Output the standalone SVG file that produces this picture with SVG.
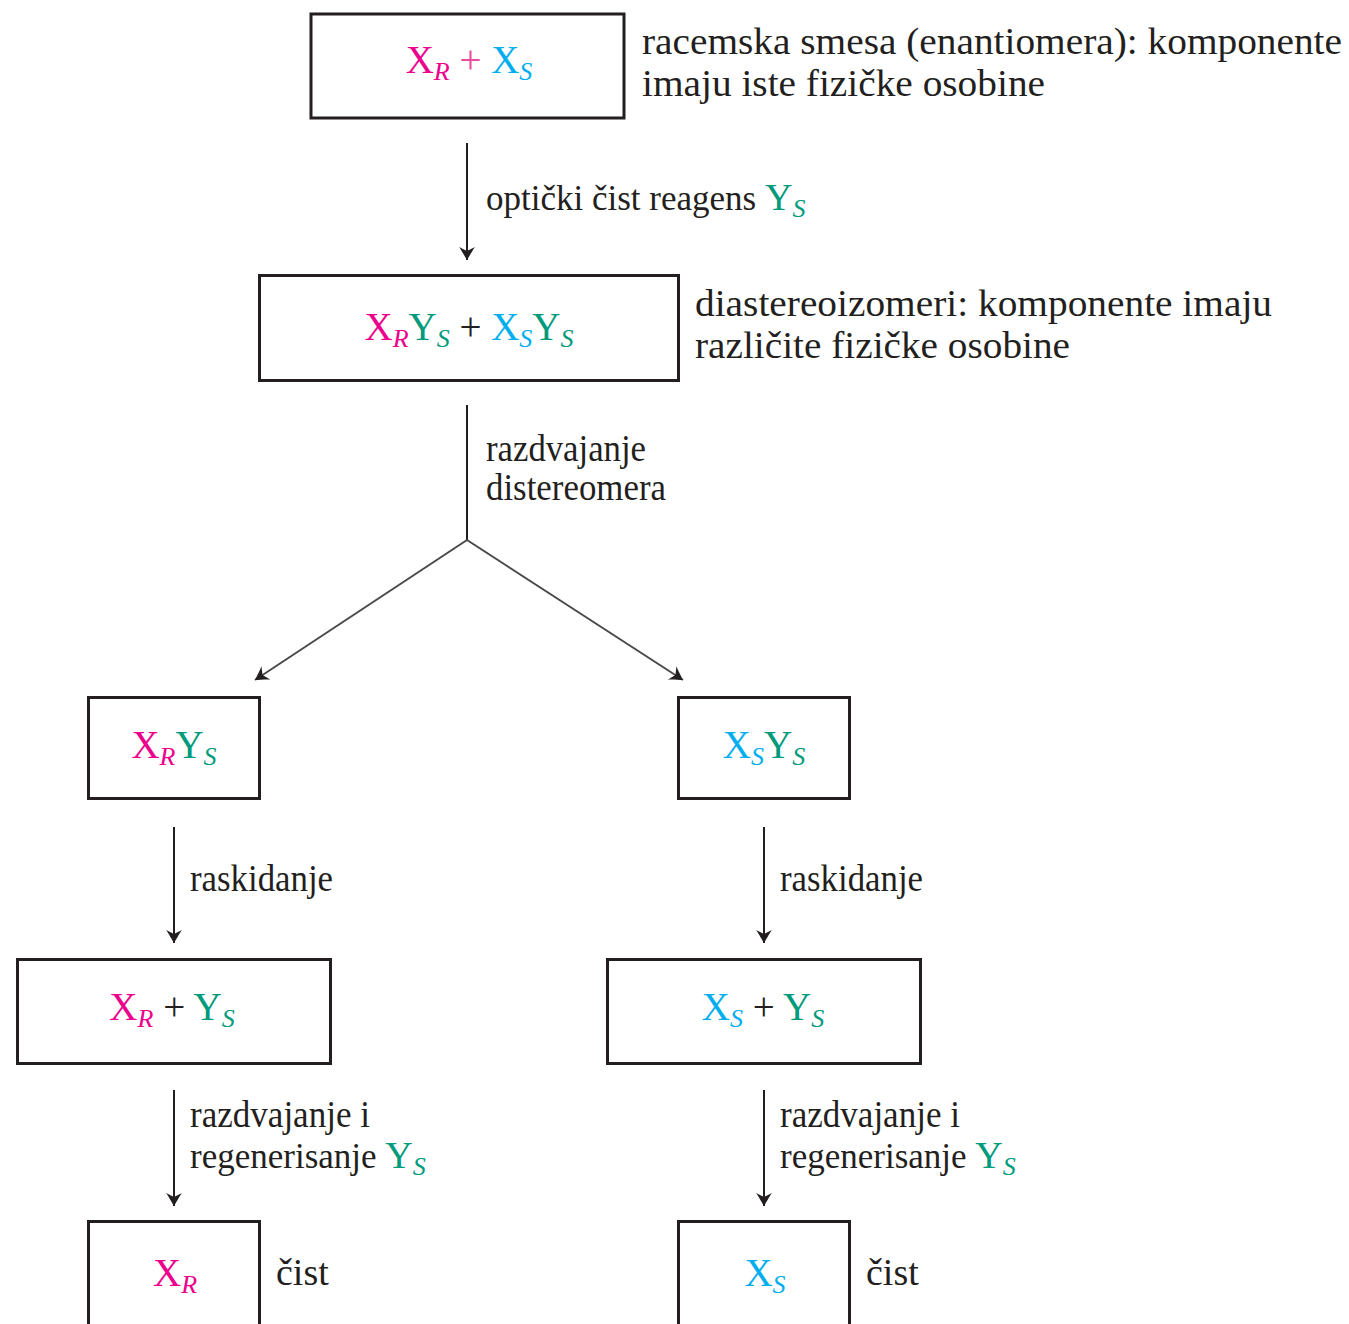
<svg xmlns="http://www.w3.org/2000/svg" width="1349" height="1324" viewBox="0 0 1349 1324">
<style>
.box{fill:#fff;stroke:#231f20;stroke-width:3}
.t{font-family:"Liberation Serif","Times New Roman",serif;font-size:38px;fill:#231f20}
.s35{font-size:35px}
.big{font-size:38px}
.m{font-family:"Liberation Serif","Times New Roman",serif;font-size:39px;text-anchor:middle;fill:#231f20}
.sub{font-size:26px;font-style:italic}
.mg{fill:#ec008c}
.cy{fill:#00aeef}
.gr{fill:#009a7c}
.pl{fill:#ec4a9a}
.ln{stroke:#231f20;stroke-width:2;fill:none}
.dg{stroke:#4a4a4a;stroke-width:2;fill:none}
</style>
<defs>
<marker id="ah" viewBox="-14 -9 15 18" refX="0" refY="0" markerWidth="15" markerHeight="18" markerUnits="userSpaceOnUse" orient="auto">
<path d="M0,0 C-3,-2 -9,-5 -13,-8 L-9,0 L-13,8 C-9,5 -3,2 0,0 Z" fill="#231f20"/>
</marker>
</defs>
<rect width="1349" height="1324" fill="#fff"/>
<g id="connectors">
<line class="ln" x1="467" y1="143" x2="467" y2="260" marker-end="url(#ah)"/>
<polyline class="ln" points="467,405 467,540"/>
<line class="dg" x1="467" y1="540" x2="255" y2="680" marker-end="url(#ah)"/>
<line class="dg" x1="467" y1="540" x2="683" y2="680" marker-end="url(#ah)"/>
<line class="ln" x1="174" y1="827" x2="174" y2="943" marker-end="url(#ah)"/>
<line class="ln" x1="764" y1="827" x2="764" y2="943" marker-end="url(#ah)"/>
<line class="ln" x1="174" y1="1090" x2="174" y2="1206" marker-end="url(#ah)"/>
<line class="ln" x1="764" y1="1090" x2="764" y2="1206" marker-end="url(#ah)"/>
<text class="t s35" x="486" y="210">optički čist reagens <tspan class="gr big">Y</tspan><tspan class="gr sub" dy="7">S</tspan></text>
<text class="t" x="486" y="461" textLength="160" lengthAdjust="spacingAndGlyphs">razdvajanje</text>
<text class="t" x="486" y="500" textLength="180" lengthAdjust="spacingAndGlyphs">distereomera</text>
<text class="t" x="190" y="891" textLength="143" lengthAdjust="spacingAndGlyphs">raskidanje</text>
<text class="t" x="780" y="891" textLength="143" lengthAdjust="spacingAndGlyphs">raskidanje</text>
<text class="t" x="190" y="1127" textLength="180" lengthAdjust="spacingAndGlyphs">razdvajanje i</text>
<text class="t s35" x="190" y="1168">regenerisanje <tspan class="gr big">Y</tspan><tspan class="gr sub" dy="7">S</tspan></text>
<text class="t" x="780" y="1127" textLength="180" lengthAdjust="spacingAndGlyphs">razdvajanje i</text>
<text class="t s35" x="780" y="1168">regenerisanje <tspan class="gr big">Y</tspan><tspan class="gr sub" dy="7">S</tspan></text>
</g>
<g id="n1">
<rect class="box" x="311" y="14" width="313" height="104"/>
<text class="m" x="469" y="73"><tspan class="mg">X</tspan><tspan class="mg sub" dy="7">R</tspan><tspan class="pl" dy="-7"> + </tspan><tspan class="cy">X</tspan><tspan class="cy sub" dy="7">S</tspan></text>
<text class="t" x="642" y="54" textLength="700" lengthAdjust="spacingAndGlyphs">racemska smesa (enantiomera): komponente</text>
<text class="t" x="642" y="96" textLength="403" lengthAdjust="spacingAndGlyphs">imaju iste fizičke osobine</text>
</g>
<g id="n2">
<rect class="box" x="259.5" y="275.5" width="419" height="105"/>
<text class="m" x="469" y="340"><tspan class="mg">X</tspan><tspan class="mg sub" dy="7">R</tspan><tspan class="gr" dy="-7">Y</tspan><tspan class="gr sub" dy="7">S</tspan><tspan dy="-7"> + </tspan><tspan class="cy">X</tspan><tspan class="cy sub" dy="7">S</tspan><tspan class="gr" dy="-7">Y</tspan><tspan class="gr sub" dy="7">S</tspan></text>
<text class="t" x="695" y="316" textLength="577" lengthAdjust="spacingAndGlyphs">diastereoizomeri: komponente imaju</text>
<text class="t" x="695" y="358" textLength="375" lengthAdjust="spacingAndGlyphs">različite fizičke osobine</text>
</g>
<g id="n3">
<rect class="box" x="88.5" y="697.5" width="171" height="101"/>
<text class="m" x="174" y="758"><tspan class="mg">X</tspan><tspan class="mg sub" dy="7">R</tspan><tspan class="gr" dy="-7">Y</tspan><tspan class="gr sub" dy="7">S</tspan></text>
</g>
<g id="n4">
<rect class="box" x="678.5" y="697.5" width="171" height="101"/>
<text class="m" x="764" y="758"><tspan class="cy">X</tspan><tspan class="cy sub" dy="7">S</tspan><tspan class="gr" dy="-7">Y</tspan><tspan class="gr sub" dy="7">S</tspan></text>
</g>
<g id="n5">
<rect class="box" x="17.5" y="959.5" width="313" height="104"/>
<text class="m" x="172" y="1020"><tspan class="mg">X</tspan><tspan class="mg sub" dy="7">R</tspan><tspan dy="-7"> + </tspan><tspan class="gr">Y</tspan><tspan class="gr sub" dy="7">S</tspan></text>
</g>
<g id="n6">
<rect class="box" x="607.5" y="959.5" width="313" height="104"/>
<text class="m" x="763" y="1020"><tspan class="cy">X</tspan><tspan class="cy sub" dy="7">S</tspan><tspan dy="-7"> + </tspan><tspan class="gr">Y</tspan><tspan class="gr sub" dy="7">S</tspan></text>
</g>
<g id="n7">
<rect class="box" x="88.5" y="1221.5" width="171" height="140"/>
<text class="m" x="175" y="1286"><tspan class="mg">X</tspan><tspan class="mg sub" dy="7">R</tspan></text>
<text class="t" x="276" y="1285">čist</text>
</g>
<g id="n8">
<rect class="box" x="678.5" y="1221.5" width="171" height="140"/>
<text class="m" x="765" y="1286"><tspan class="cy">X</tspan><tspan class="cy sub" dy="7">S</tspan></text>
<text class="t" x="866" y="1285">čist</text>
</g>
</svg>
